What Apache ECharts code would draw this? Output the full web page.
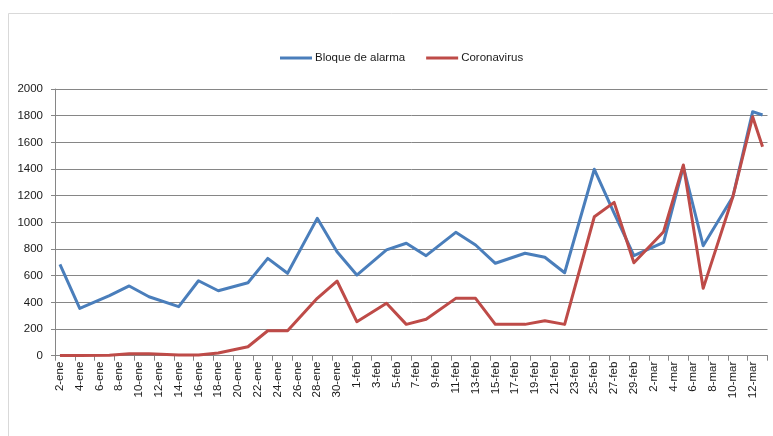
<!DOCTYPE html>
<html>
<head>
<meta charset="utf-8">
<script src="https://cdn.jsdelivr.net/npm/echarts@6/dist/echarts.min.js"></script>
<style>
html,body{margin:0;padding:0;background:#fff;}
#c{width:773px;height:436px;}
</style>
</head>
<body>
<div id="c"></div>
<script>
// Axis day labels (daily category axis, labels shown every other day)
const dayLabels = [
 '2-ene','3-ene','4-ene','5-ene','6-ene','7-ene','8-ene','9-ene','10-ene','11-ene','12-ene','13-ene','14-ene','15-ene','16-ene','17-ene','18-ene','19-ene','20-ene','21-ene','22-ene','23-ene','24-ene','25-ene','26-ene','27-ene','28-ene','29-ene','30-ene','31-ene',
 '1-feb','2-feb','3-feb','4-feb','5-feb','6-feb','7-feb','8-feb','9-feb','10-feb','11-feb','12-feb','13-feb','14-feb','15-feb','16-feb','17-feb','18-feb','19-feb','20-feb','21-feb','22-feb','23-feb','24-feb','25-feb','26-feb','27-feb','28-feb','29-feb',
 '1-mar','2-mar','3-mar','4-mar','5-mar','6-mar','7-mar','8-mar','9-mar','10-mar','11-mar','12-mar','13-mar'
];
// Dates on which values were recorded
const sampleDates = ['2-ene','4-ene','7-ene','9-ene','11-ene','14-ene','16-ene','18-ene','21-ene','23-ene','25-ene','28-ene','30-ene','1-feb','4-feb','6-feb','8-feb','11-feb','13-feb','15-feb','18-feb','20-feb','22-feb','25-feb','27-feb','29-feb','3-mar','5-mar','7-mar','10-mar','12-mar','13-mar'];
const bloqueDeAlarma = [685,355,450,523,442,368,562,487,547,730,618,1030,780,605,793,843,750,925,830,693,768,738,622,1398,1070,750,850,1417,825,1192,1830,1805];
const coronavirus = [2,2,3,15,15,5,5,20,67,187,187,430,560,255,393,235,273,430,430,235,235,262,235,1042,1150,697,930,1430,505,1192,1792,1567];
const yTicks = [0,200,400,600,800,1000,1200,1400,1600,1800,2000];

const chart = echarts.init(document.getElementById('c'), null, {renderer:'canvas'});
const font = 'Liberation Sans';
const pair = (vals) => sampleDates.map((d,i)=>[d, vals[i]]);
chart.setOption({
  animation:false,
  backgroundColor:'#fff',
  graphic:[{type:'rect', shape:{x:8.5,y:13.5,width:800,height:500}, style:{fill:'none', stroke:'#d9d9d9', lineWidth:1}, silent:true}],
  legend:{
    left:275, top:47,
    icon:'rect', itemWidth:32, itemHeight:3, itemGap:21,
    textStyle:{fontFamily:font, fontSize:11.5, color:'#1a1a1a', padding:[0,0,0,-2]},
    data:['Bloque de alarma','Coronavirus']
  },
  grid:{left:55, right:5.5, top:89, bottom:80.3, containLabel:false},
  xAxis:{
    type:'category', data:dayLabels, boundaryGap:true,
    axisLine:{lineStyle:{color:'#868686', width:1}},
    axisTick:{show:true, interval:1, alignWithLabel:false, length:5, lineStyle:{color:'#868686'}},
    axisLabel:{interval:1, rotate:90, fontFamily:font, fontSize:11.5, color:'#1a1a1a', margin:6},
    splitLine:{show:false}
  },
  yAxis:{
    type:'value', min:yTicks[0], max:yTicks[yTicks.length-1], interval:200,
    axisLine:{show:true, lineStyle:{color:'#868686'}},
    axisTick:{show:true, length:4, lineStyle:{color:'#868686'}},
    axisLabel:{fontFamily:font, fontSize:11.5, color:'#1a1a1a', margin:12, formatter:(v)=>String(v)},
    splitLine:{lineStyle:{color:'#868686', width:1}}
  },
  series:[
    {name:'Bloque de alarma', type:'line', data:pair(bloqueDeAlarma), showSymbol:false, symbol:'none',
     lineStyle:{color:'#4a7ebb', width:3, join:'round'}, itemStyle:{color:'#4a7ebb'}},
    {name:'Coronavirus', type:'line', data:pair(coronavirus), showSymbol:false, symbol:'none',
     lineStyle:{color:'#be4b48', width:3, join:'round'}, itemStyle:{color:'#be4b48'}}
  ]
});
</script>
</body>
</html>
